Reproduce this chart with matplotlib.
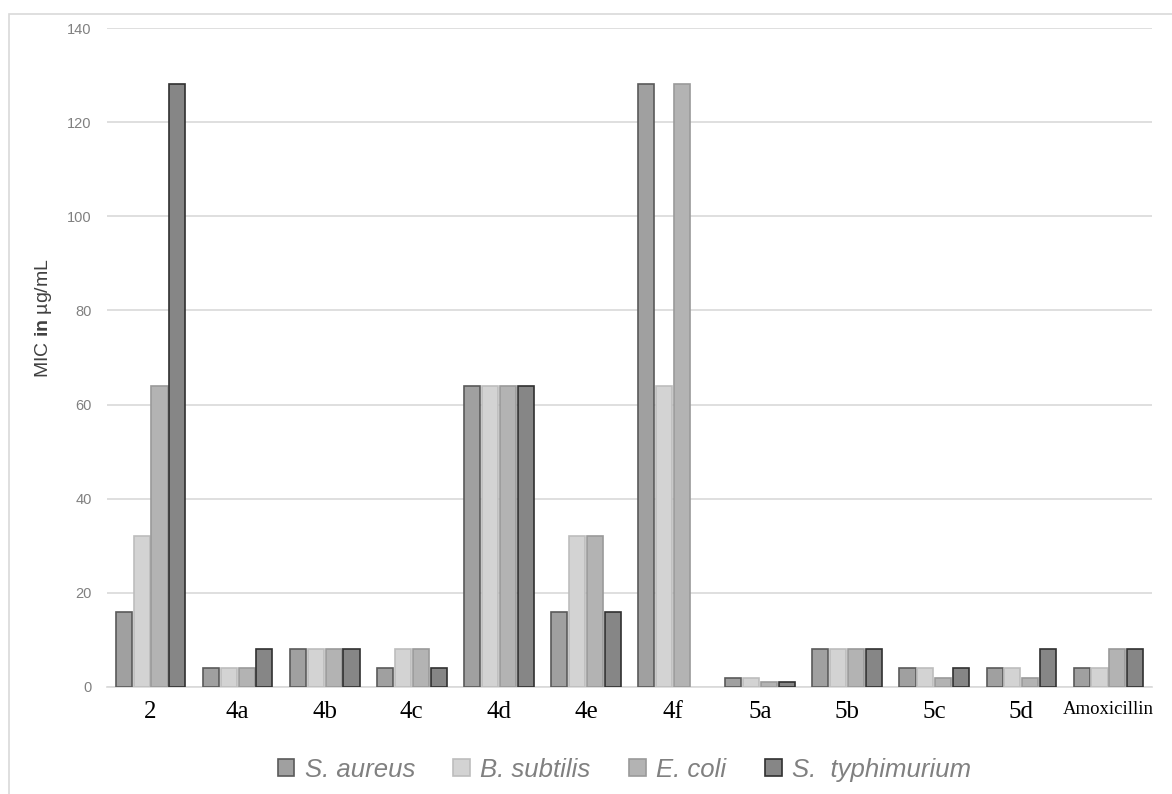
import numpy as np
import matplotlib
matplotlib.use('Agg')
import matplotlib.pyplot as plt
from matplotlib.patches import Rectangle

# data
compounds = ['2', '4a', '4b', '4c', '4d', '4e', '4f', '5a', '5b', '5c', '5d', 'Amoxicillin']
s_aureus      = [16, 4, 8, 4, 64, 16, 128, 2, 8, 4, 4, 4]
b_subtilis    = [32, 4, 8, 8, 64, 32, 64, 2, 8, 4, 4, 4]
e_coli        = [64, 4, 8, 8, 64, 32, 128, 1, 8, 2, 2, 8]
s_typhimurium = [128, 8, 8, 4, 64, 16, 0, 1, 8, 4, 8, 8]
series_names = ['S. aureus', 'B. subtilis', 'E. coli', 'S.  typhimurium']

plt.rcParams['mathtext.fontset'] = 'custom'
plt.rcParams['mathtext.rm'] = 'Liberation Sans'
plt.rcParams['mathtext.bf'] = 'Liberation Sans:bold'

fills = ['#a0a0a0', '#d3d3d3', '#b3b3b3', '#868686']
edges = ['#5a5a5a', '#bdbdbd', '#9a9a9a', '#303030']

fig = plt.figure(figsize=(11.72, 7.94), dpi=100)
ax = fig.add_axes([107/1172, 1 - 687/794, (1152 - 107)/1172, (687 - 28)/794])

# outer chart border
fig.patches.append(Rectangle((9/1172, -0.1), 1.2, 1 - 14/794 + 0.1, transform=fig.transFigure,
                             fill=False, edgecolor='#d9d9d9', linewidth=1.2))

x = np.arange(len(compounds))
w = 0.205
data = [s_aureus, b_subtilis, e_coli, s_typhimurium]
for i, vals in enumerate(data):
    vals = np.array(vals, dtype=float)
    keep = vals > 0  # zero values are not drawn (no visible bar)
    ax.bar(x[keep] + (i - 1.5) * w, vals[keep], width=w * 0.9, color=fills[i],
           edgecolor=edges[i], linewidth=1.2, label=series_names[i], zorder=3)

ax.set_xlim(-0.5, len(compounds) - 0.5)
ax.set_ylim(0, 140)
ax.set_yticks(range(0, 141, 20))
ax.yaxis.grid(True, color='#d9d9d9', linewidth=1.2, zorder=0)
ax.set_axisbelow(True)
for s in ['top', 'right', 'left']:
    ax.spines[s].set_visible(False)
ax.spines['bottom'].set_color('#d9d9d9')
ax.spines['bottom'].set_linewidth(1.2)
ax.tick_params(axis='both', length=0)
ax.tick_params(axis='y', labelsize=10.5, labelcolor='#808080', pad=11)
for lab in ax.get_yticklabels():
    lab.set_family('Liberation Sans')

ax.set_xticks(x)
ax.set_xticklabels(compounds, family='Liberation Serif', fontsize=18, color='black')
ax.get_xticklabels()[-1].set_fontsize(13.5)
ax.tick_params(axis='x', pad=10)

ax.set_ylabel(r'MIC $\mathbf{in}$ µg/mL', family='Liberation Sans', fontsize=14,
              color='#404040')
ax.yaxis.set_label_coords(-0.051, 0.56)

leg = ax.legend(loc='upper center', bbox_to_anchor=(0.495, -0.072), ncol=4, frameon=False,
                handlelength=0.65, handleheight=0.65, handletextpad=0.4, columnspacing=1.5,
                prop={'family': 'Liberation Sans', 'style': 'italic', 'size': 18.5})
for t in leg.get_texts():
    t.set_color('#808080')

fig.savefig('out.png', dpi=100)
